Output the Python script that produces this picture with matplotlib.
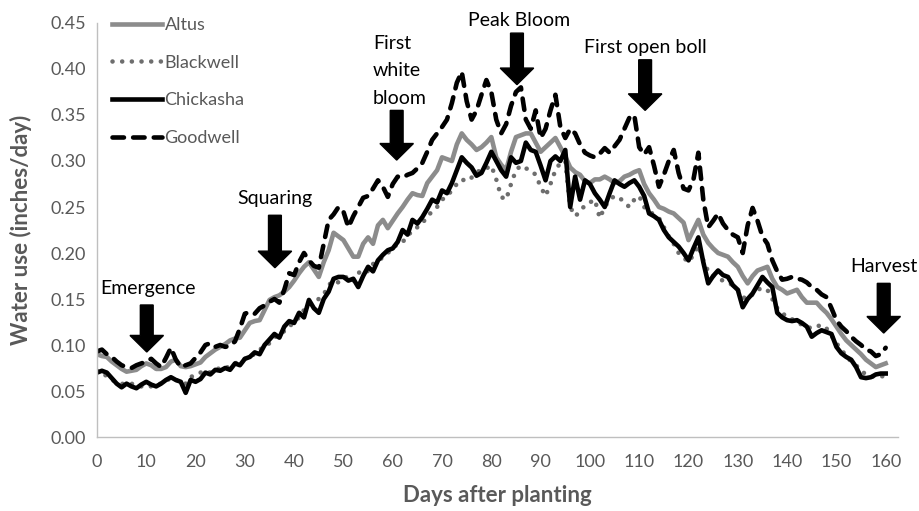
import matplotlib
matplotlib.use("Agg")
import matplotlib.pyplot as plt
import numpy as np

days = list(range(0, 161))

altus = [0.090,0.088,0.087,0.082,0.078,0.074,0.071,0.072,0.073,0.077,
         0.080,0.078,0.074,0.074,0.076,0.082,0.084,0.077,0.076,0.077,
         0.079,0.081,0.087,0.091,0.095,0.098,0.101,0.105,0.107,0.108,
         0.116,0.124,0.126,0.127,0.138,0.149,0.152,0.154,0.158,0.163,
         0.170,0.178,0.185,0.190,0.182,0.174,0.190,0.203,0.222,0.218,
         0.214,0.205,0.196,0.196,0.210,0.217,0.210,0.230,0.236,0.227,
         0.235,0.243,0.250,0.258,0.265,0.263,0.262,0.276,0.283,0.290,
         0.304,0.302,0.300,0.318,0.330,0.323,0.318,0.312,0.315,0.320,
         0.326,0.304,0.296,0.290,0.310,0.326,0.328,0.330,0.330,0.320,
         0.310,0.315,0.320,0.325,0.315,0.305,0.293,0.288,0.285,0.278,
         0.276,0.280,0.280,0.283,0.280,0.276,0.278,0.283,0.285,0.288,
         0.290,0.275,0.265,0.258,0.250,0.248,0.245,0.243,0.238,0.233,
         0.214,0.225,0.236,0.220,0.211,0.205,0.200,0.198,0.196,0.190,
         0.185,0.175,0.167,0.175,0.181,0.183,0.185,0.172,0.163,0.160,
         0.156,0.158,0.160,0.152,0.146,0.146,0.146,0.140,0.135,0.128,
         0.120,0.112,0.105,0.100,0.095,0.090,0.084,0.080,0.076,0.078,
         0.080]

blackwell = [0.072,0.070,0.066,0.062,0.060,0.058,0.057,0.058,0.056,0.055,
             0.056,0.055,0.057,0.058,0.060,0.065,0.062,0.060,0.058,0.065,
             0.068,0.070,0.072,0.070,0.073,0.075,0.074,0.078,0.080,0.082,
             0.085,0.088,0.090,0.095,0.098,0.102,0.108,0.112,0.115,0.120,
             0.125,0.130,0.138,0.145,0.148,0.150,0.155,0.165,0.170,0.168,
             0.172,0.175,0.170,0.178,0.182,0.180,0.188,0.192,0.195,0.200,
             0.205,0.210,0.212,0.218,0.225,0.228,0.232,0.240,0.245,0.250,
             0.258,0.262,0.268,0.275,0.280,0.278,0.282,0.288,0.290,0.292,
             0.295,0.280,0.261,0.258,0.275,0.290,0.295,0.292,0.290,0.285,
             0.272,0.262,0.275,0.290,0.298,0.300,0.250,0.240,0.245,0.252,
             0.255,0.258,0.238,0.250,0.258,0.262,0.260,0.255,0.250,0.258,
             0.262,0.250,0.245,0.242,0.238,0.228,0.218,0.210,0.200,0.195,
             0.190,0.198,0.208,0.192,0.180,0.175,0.172,0.170,0.168,0.165,
             0.160,0.152,0.150,0.155,0.160,0.162,0.160,0.150,0.140,0.135,
             0.130,0.128,0.125,0.122,0.120,0.118,0.120,0.122,0.118,0.110,
             0.102,0.095,0.088,0.082,0.078,0.072,0.068,0.066,0.065,0.066,
             0.066]

chickasha = [0.070,0.072,0.070,0.064,0.058,0.054,0.058,0.055,0.053,0.057,
             0.060,0.057,0.055,0.058,0.062,0.065,0.062,0.060,0.048,0.062,
             0.060,0.063,0.070,0.068,0.073,0.072,0.075,0.073,0.080,0.078,
             0.085,0.087,0.092,0.090,0.100,0.106,0.112,0.108,0.120,0.126,
             0.124,0.135,0.130,0.149,0.140,0.135,0.150,0.158,0.172,0.174,
             0.174,0.170,0.172,0.163,0.175,0.185,0.180,0.192,0.198,0.203,
             0.205,0.212,0.225,0.220,0.236,0.232,0.239,0.248,0.258,0.255,
             0.268,0.265,0.276,0.290,0.304,0.298,0.293,0.284,0.287,0.298,
             0.310,0.300,0.290,0.283,0.304,0.298,0.300,0.320,0.312,0.310,
             0.295,0.279,0.300,0.305,0.300,0.312,0.250,0.283,0.258,0.279,
             0.275,0.265,0.258,0.250,0.265,0.279,0.275,0.272,0.276,0.279,
             0.272,0.262,0.243,0.240,0.236,0.225,0.217,0.212,0.207,0.200,
             0.192,0.205,0.217,0.190,0.167,0.175,0.181,0.176,0.174,0.165,
             0.160,0.141,0.150,0.156,0.165,0.174,0.168,0.163,0.135,0.130,
             0.127,0.126,0.127,0.124,0.120,0.109,0.113,0.116,0.114,0.112,
             0.098,0.091,0.087,0.084,0.076,0.065,0.064,0.065,0.068,0.069,
             0.069]

goodwell = [0.093,0.095,0.090,0.087,0.082,0.078,0.076,0.075,0.078,0.080,
            0.082,0.085,0.080,0.076,0.086,0.097,0.084,0.076,0.078,0.080,
            0.086,0.092,0.100,0.102,0.098,0.100,0.098,0.099,0.104,0.118,
            0.134,0.136,0.134,0.140,0.143,0.147,0.150,0.146,0.160,0.178,
            0.176,0.190,0.200,0.192,0.186,0.184,0.210,0.236,0.242,0.250,
            0.245,0.228,0.240,0.250,0.260,0.262,0.270,0.279,0.272,0.261,
            0.275,0.283,0.282,0.285,0.287,0.292,0.298,0.310,0.323,0.330,
            0.337,0.345,0.363,0.385,0.397,0.365,0.345,0.355,0.372,0.388,
            0.375,0.345,0.330,0.340,0.360,0.375,0.380,0.345,0.335,0.355,
            0.325,0.335,0.355,0.372,0.337,0.325,0.335,0.330,0.318,0.309,
            0.306,0.304,0.308,0.314,0.309,0.316,0.323,0.335,0.347,0.350,
            0.315,0.307,0.315,0.295,0.272,0.285,0.300,0.312,0.287,0.270,
            0.268,0.280,0.309,0.258,0.228,0.235,0.243,0.232,0.225,0.220,
            0.217,0.200,0.230,0.249,0.235,0.218,0.210,0.192,0.180,0.171,
            0.172,0.174,0.172,0.171,0.168,0.163,0.160,0.155,0.152,0.140,
            0.127,0.120,0.115,0.109,0.104,0.100,0.095,0.093,0.088,0.090,
            0.097]

x_ticks = list(range(0, 161, 10))
y_ticks = [0.00, 0.05, 0.10, 0.15, 0.20, 0.25, 0.30, 0.35, 0.40, 0.45]

stage_labels = ["Emergence", "Squaring", "First\nwhite\nbloom", "Peak Bloom", "First open boll", "Harvest"]

FONT = ["Lato", "DejaVu Sans"]
GRAY_TXT = "#595959"

fig = plt.figure(figsize=(9.2, 5.11), dpi=100)
ax = fig.add_axes([0.1054, 0.1448, 0.8707, 0.8102])

ax.plot(days, altus, color="#8c8c8c", lw=3.3, solid_joinstyle="round", label="Altus")
ax.plot(days, blackwell, color="#6e6e6e", lw=3.3, linestyle=(0, (0.01, 2.1)),
        dash_capstyle="round", label="Blackwell")
ax.plot(days, chickasha, color="black", lw=3.3, solid_joinstyle="round", label="Chickasha")
ax.plot(days, goodwell, color="black", lw=3.3, linestyle=(0, (2.5, 2.0)),
        dash_capstyle="round", label="Goodwell")

ax.set_xlim(0, 162.5)
ax.set_ylim(0, 0.45)
ax.set_xticks(x_ticks)
ax.set_xticklabels([str(t) for t in x_ticks], fontfamily=FONT, fontsize=13, color=GRAY_TXT)
ax.set_yticks(y_ticks)
ax.set_yticklabels([f"{t:.2f}" for t in y_ticks], fontfamily=FONT, fontsize=13, color=GRAY_TXT)
ax.tick_params(length=0, pad=8)
ax.tick_params(axis="x", pad=12)
for s in ["top", "right"]:
    ax.spines[s].set_visible(False)
ax.spines["left"].set_color("#bfbfbf")
ax.spines["bottom"].set_color("#bfbfbf")
ax.spines["left"].set_linewidth(1.0)
ax.spines["bottom"].set_linewidth(1.0)

ax.set_xlabel("Days after planting", fontfamily=FONT, fontsize=16, fontweight="bold",
              color=GRAY_TXT, labelpad=11)
ax.set_ylabel("Water use (inches/day)", fontfamily=FONT, fontsize=16, fontweight="bold",
              color=GRAY_TXT, labelpad=13)

leg = ax.legend(loc="upper left", bbox_to_anchor=(0.114, 0.981), bbox_transform=fig.transFigure,
                frameon=False, handlelength=2.75, handletextpad=0.15, labelspacing=1.2,
                borderaxespad=0.0, prop={"family": FONT, "size": 13})
for t in leg.get_texts():
    t.set_color(GRAY_TXT)

# stage annotations: text position and arrow (top -> tip)
stage_text_x = [10.3, 36.1, 56.0, 85.6, 111.2, 159.6]
stage_text_y = [0.161, 0.259, 0.437, 0.453, 0.423, 0.185]
stage_arrow_x = [10.1, 36.1, 60.8, 85.2, 111.2, 159.6]
stage_arrow_top = [0.1435, 0.241, 0.355, 0.439, 0.410, 0.167]
stage_arrow_tip = [0.0924, 0.184, 0.301, 0.383, 0.355, 0.113]

for lab, tx, ty, axx, top, tip in zip(stage_labels, stage_text_x, stage_text_y,
                                        stage_arrow_x, stage_arrow_top, stage_arrow_tip):
    if "\n" in lab:
        ax.text(tx, ty, lab, ha="left", va="top", fontfamily=FONT, fontsize=14,
                color="black", linespacing=1.75)
    else:
        ax.text(tx, ty, lab, ha="center", va="center", fontfamily=FONT, fontsize=14,
                color="black", clip_on=False)
    ax.arrow(axx, top, 0, tip - top, width=2.6, head_width=6.8, head_length=0.018,
             length_includes_head=True, color="black", clip_on=False, zorder=5)

fig.savefig("out.png", dpi=100)
